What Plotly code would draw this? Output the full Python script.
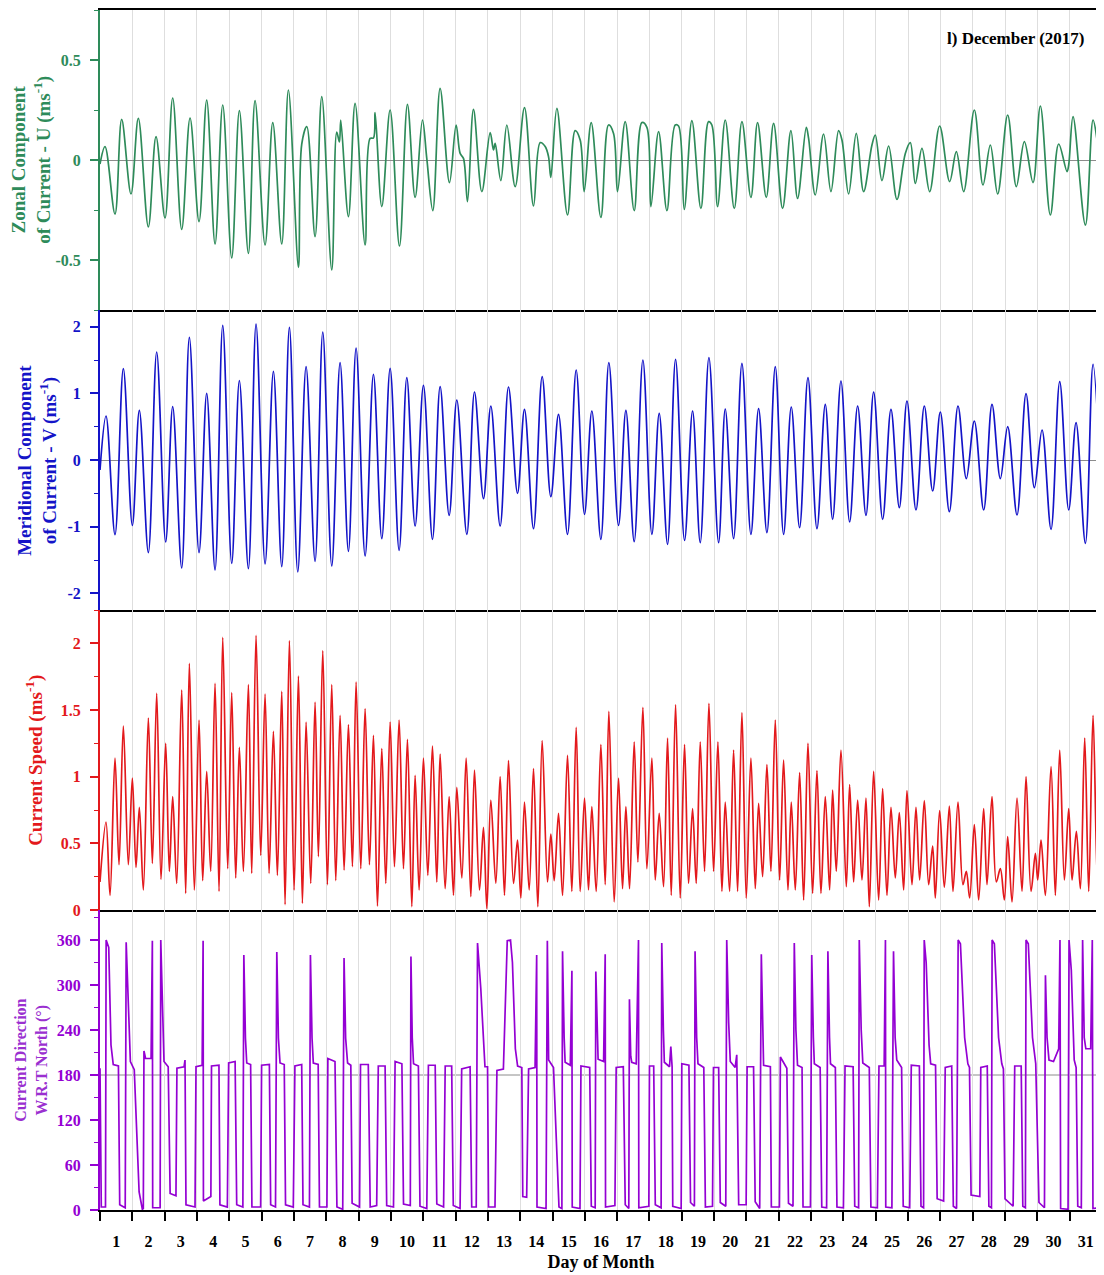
import plotly.graph_objects as go
from plotly.subplots import make_subplots

# ---------------- data (day of month offset, value) ----------------
u_points = [
    (0.00, -0.02), (0.155, 0.067), (0.464, -0.27), (0.67, 0.203), (0.959, -0.17), (1.186, 0.208),
    (1.496, -0.335), (1.733, 0.117), (2.012, -0.29), (2.249, 0.31), (2.528, -0.347), (2.786, 0.21),
    (3.064, -0.308), (3.301, 0.30), (3.56, -0.42), (3.797, 0.275), (4.075, -0.49), (4.312, 0.247),
    (4.591, -0.467), (4.797, 0.297), (5.107, -0.425), (5.345, 0.187), (5.623, -0.42), (5.829, 0.35),
    (6.139, -0.537), (6.242, 0.08), (6.397, 0.167), (6.654, -0.383), (6.861, 0.317), (7.17, -0.55),
    (7.325, 0.14), (7.407, 0.09), (7.449, 0.2), (7.686, -0.283), (7.892, 0.283), (8.202, -0.425),
    (8.357, 0.108), (8.46, 0.11), (8.511, 0.237), (8.718, -0.233), (8.976, 0.25), (9.265, -0.43),
    (9.512, 0.278), (9.749, -0.187), (9.976, 0.2), (10.11, 0.008), (10.296, -0.253), (10.523, 0.358),
    (10.812, -0.113), (11.018, 0.175), (11.142, 0.033), (11.245, 0.008), (11.369, -0.208),
    (11.555, 0.253), (11.813, -0.158), (12.071, 0.137), (12.174, 0.05), (12.226, 0.083),
    (12.401, -0.103), (12.587, 0.175), (12.845, -0.133), (13.133, 0.262), (13.412, -0.23),
    (13.618, 0.087), (13.773, 0.067), (13.876, 0.017), (13.948, -0.087), (14.134, 0.258),
    (14.464, -0.275), (14.701, 0.147), (14.856, 0.1), (14.98, -0.158), (15.197, 0.187),
    (15.496, -0.287), (15.733, 0.175), (15.888, 0.133), (16.011, -0.158), (16.249, 0.192),
    (16.527, -0.253), (16.765, 0.187), (16.92, 0.163), (17.043, -0.233), (17.281, 0.142),
    (17.539, -0.253), (17.796, 0.175), (17.9, 0.17), (18.075, -0.247), (18.312, 0.197),
    (18.591, -0.242), (18.828, 0.192), (18.93, 0.175), (19.107, -0.233), (19.344, 0.2),
    (19.623, -0.242), (19.86, 0.192), (20.138, -0.187), (20.344, 0.187), (20.613, -0.187),
    (20.84, 0.183), (21.118, -0.242), (21.376, 0.147), (21.582, -0.192), (21.851, 0.163),
    (21.923, 0.108), (22.129, -0.175), (22.387, 0.13), (22.614, -0.158), (22.851, 0.147),
    (22.955, 0.1), (23.161, -0.17), (23.398, 0.133), (23.625, -0.158), (23.883, 0.075),
    (23.986, 0.125), (24.192, -0.103), (24.399, 0.07), (24.657, -0.197), (24.915, 0.033),
    (25.069, 0.087), (25.224, -0.117), (25.43, 0.058), (25.668, -0.158), (25.977, 0.17),
    (26.287, -0.108), (26.493, 0.042), (26.72, -0.158), (27.05, 0.25), (27.318, -0.125),
    (27.545, 0.075), (27.772, -0.17), (28.082, 0.225), (28.35, -0.133), (28.598, 0.092),
    (28.866, -0.113), (29.093, 0.27), (29.402, -0.275), (29.66, 0.08), (29.918, -0.058),
    (29.97, -0.025), (30.104, 0.217), (30.486, -0.325), (30.723, 0.2), (30.847, 0.1), (31.0, -0.167),
]

v_points = [
    (0.0, -0.15), (0.186, 0.66), (0.464, -1.12), (0.722, 1.37), (1.001, -0.98), (1.217, 0.745),
    (1.496, -1.39), (1.754, 1.62), (2.032, -1.23), (2.249, 0.8), (2.528, -1.62), (2.765, 1.84),
    (3.064, -1.39), (3.301, 1.0), (3.559, -1.65), (3.797, 2.02), (4.075, -1.55), (4.312, 1.19),
    (4.591, -1.63), (4.828, 2.04), (5.107, -1.56), (5.365, 1.33), (5.623, -1.6), (5.86, 1.99),
    (6.118, -1.68), (6.376, 1.4), (6.654, -1.52), (6.892, 1.92), (7.17, -1.59), (7.428, 1.46),
    (7.686, -1.37), (7.923, 1.68), (8.202, -1.44), (8.46, 1.285), (8.718, -1.18), (8.976, 1.375),
    (9.254, -1.355), (9.492, 1.235), (9.749, -0.99), (10.007, 1.12), (10.286, -1.19), (10.523, 1.1),
    (10.802, -0.83), (11.039, 0.9), (11.349, -1.115), (11.586, 1.02), (11.864, -0.58), (12.091, 0.81),
    (12.38, -0.99), (12.638, 1.095), (12.917, -0.5), (13.133, 0.76), (13.412, -1.03), (13.68, 1.25),
    (13.948, -0.55), (14.186, 0.685), (14.464, -1.115), (14.732, 1.35), (14.99, -0.815),
    (15.217, 0.735), (15.496, -1.19), (15.743, 1.46), (16.042, -0.98), (16.27, 0.745),
    (16.527, -1.225), (16.796, 1.5), (17.074, -1.115), (17.301, 0.7), (17.559, -1.265),
    (17.807, 1.51), (18.085, -1.205), (18.333, 0.735), (18.57, -1.24), (18.839, 1.535),
    (19.138, -1.24), (19.344, 0.765), (19.602, -1.18), (19.86, 1.45), (20.138, -1.115),
    (20.376, 0.77), (20.633, -1.09), (20.892, 1.4), (21.149, -1.115), (21.387, 0.795),
    (21.644, -1.015), (21.903, 1.235), (22.181, -1.03), (22.439, 0.835), (22.666, -0.89),
    (22.924, 1.185), (23.192, -0.93), (23.44, 0.81), (23.698, -0.83), (23.935, 1.02),
    (24.213, -0.89), (24.471, 0.76), (24.729, -0.715), (24.966, 0.885), (25.245, -0.75),
    (25.503, 0.81), (25.761, -0.465), (25.998, 0.72), (26.277, -0.775), (26.545, 0.81),
    (26.803, -0.28), (27.05, 0.585), (27.339, -0.75), (27.597, 0.835), (27.855, -0.28),
    (28.082, 0.5), (28.371, -0.825), (28.65, 0.995), (28.908, -0.415), (29.145, 0.45),
    (29.423, -1.04), (29.692, 1.175), (29.97, -0.75), (30.197, 0.56), (30.486, -1.25),
    (30.723, 1.435), (31.0, -0.94),
]

speed_points = [
    (0.0, 0.21), (0.186, 0.66), (0.31, 0.11), (0.464, 1.14), (0.588, 0.34), (0.722, 1.38),
    (0.877, 0.34), (1.001, 0.99), (1.114, 0.32), (1.217, 0.77), (1.341, 0.15), (1.496, 1.44),
    (1.62, 0.35), (1.754, 1.625), (1.888, 0.23), (2.032, 1.25), (2.146, 0.29), (2.249, 0.85),
    (2.373, 0.2), (2.528, 1.65), (2.651, 0.125), (2.765, 1.85), (2.92, 0.15), (3.064, 1.425),
    (3.177, 0.22), (3.301, 1.04), (3.425, 0.29), (3.559, 1.7), (3.683, 0.14), (3.797, 2.045),
    (3.951, 0.31), (4.075, 1.63), (4.199, 0.24), (4.312, 1.22), (4.436, 0.29), (4.591, 1.69),
    (4.694, 0.275), (4.828, 2.06), (4.972, 0.41), (5.107, 1.62), (5.231, 0.275), (5.365, 1.34),
    (5.488, 0.26), (5.623, 1.64), (5.726, 0.04), (5.86, 2.02), (6.005, 0.15), (6.139, 1.755),
    (6.262, 0.05), (6.376, 1.41), (6.52, 0.2), (6.654, 1.56), (6.757, 0.4), (6.892, 1.945),
    (7.036, 0.19), (7.17, 1.69), (7.294, 0.22), (7.428, 1.46), (7.552, 0.3), (7.686, 1.39),
    (7.81, 0.325), (7.923, 1.71), (8.068, 0.31), (8.202, 1.51), (8.336, 0.34), (8.46, 1.31),
    (8.584, 0.03), (8.718, 1.21), (8.842, 0.2), (8.976, 1.41), (9.11, 0.325), (9.254, 1.425),
    (9.389, 0.31), (9.512, 1.28), (9.647, 0.025), (9.749, 1.01), (9.873, 0.15), (10.007, 1.14),
    (10.142, 0.26), (10.286, 1.23), (10.42, 0.21), (10.523, 1.17), (10.678, 0.16), (10.802, 0.85),
    (10.936, 0.11), (11.039, 0.92), (11.194, 0.24), (11.328, 1.14), (11.473, 0.1), (11.586, 1.05),
    (11.741, 0.15), (11.864, 0.62), (11.968, 0.01), (12.091, 0.825), (12.246, 0.2), (12.38, 1.0),
    (12.514, 0.11), (12.638, 1.12), (12.793, 0.2), (12.917, 0.525), (13.02, 0.09), (13.133, 0.81),
    (13.278, 0.15), (13.412, 1.06), (13.546, 0.025), (13.68, 1.27), (13.845, 0.21), (13.948, 0.57),
    (14.052, 0.22), (14.186, 0.725), (14.31, 0.11), (14.464, 1.16), (14.598, 0.14), (14.732, 1.37),
    (14.856, 0.14), (14.99, 0.84), (15.114, 0.15), (15.217, 0.775), (15.351, 0.14), (15.496, 1.24),
    (15.63, 0.19), (15.743, 1.49), (15.908, 0.06), (16.042, 0.99), (16.166, 0.16), (16.27, 0.775),
    (16.383, 0.16), (16.527, 1.26), (16.641, 0.36), (16.796, 1.52), (16.92, 0.31), (17.074, 1.14),
    (17.178, 0.225), (17.301, 0.725), (17.435, 0.175), (17.559, 1.29), (17.673, 0.11),
    (17.807, 1.54), (17.951, 0.09), (18.085, 1.24), (18.209, 0.2), (18.333, 0.76), (18.446, 0.2),
    (18.57, 1.26), (18.704, 0.29), (18.839, 1.55), (18.983, 0.29), (19.117, 1.26), (19.241, 0.14),
    (19.344, 0.81), (19.478, 0.14), (19.602, 1.2), (19.726, 0.14), (19.86, 1.48), (19.994, 0.09),
    (20.138, 1.14), (20.273, 0.16), (20.376, 0.8), (20.5, 0.25), (20.633, 1.09), (20.757, 0.29),
    (20.892, 1.425), (21.026, 0.225), (21.149, 1.125), (21.284, 0.15), (21.387, 0.81),
    (21.511, 0.15), (21.645, 1.03), (21.769, 0.075), (21.903, 1.25), (22.047, 0.125),
    (22.181, 1.045), (22.305, 0.125), (22.439, 0.85), (22.573, 0.15), (22.666, 0.9), (22.779, 0.29),
    (22.924, 1.2), (23.089, 0.175), (23.192, 0.94), (23.316, 0.21), (23.44, 0.825), (23.574, 0.225),
    (23.698, 0.84), (23.801, 0.025), (23.935, 1.04), (24.09, 0.075), (24.213, 0.91), (24.347, 0.11),
    (24.471, 0.77), (24.605, 0.24), (24.729, 0.73), (24.863, 0.15), (24.966, 0.895), (25.121, 0.19),
    (25.245, 0.77), (25.358, 0.225), (25.503, 0.82), (25.637, 0.19), (25.761, 0.48), (25.843, 0.09),
    (25.977, 0.745), (26.122, 0.17), (26.277, 0.78), (26.39, 0.14), (26.545, 0.81), (26.699, 0.19),
    (26.803, 0.29), (26.906, 0.09), (27.05, 0.64), (27.184, 0.075), (27.339, 0.76), (27.442, 0.19),
    (27.597, 0.85), (27.731, 0.21), (27.855, 0.31), (27.979, 0.075), (28.082, 0.55), (28.216, 0.06),
    (28.371, 0.84), (28.526, 0.14), (28.65, 1.0), (28.805, 0.14), (28.939, 0.425), (29.011, 0.225),
    (29.114, 0.525), (29.248, 0.11), (29.423, 1.075), (29.557, 0.11), (29.692, 1.2), (29.836, 0.225),
    (29.97, 0.76), (30.073, 0.225), (30.207, 0.59), (30.331, 0.16), (30.465, 1.29), (30.589, 0.14),
    (30.723, 1.46), (30.868, 0.16), (31.0, 0.95),
]

dir_points = [
    (0.00, 189), (0.04, 4), (0.17, 4), (0.19, 360), (0.27, 350), (0.34, 220), (0.41, 194), (0.57, 192),
    (0.61, 7), (0.78, 3), (0.81, 357), (0.88, 273), (0.94, 198), (1.06, 187), (1.14, 96), (1.21, 24),
    (1.31, 1), (1.34, 2), (1.36, 212), (1.41, 202), (1.58, 202), (1.62, 359), (1.63, 3), (1.86, 3),
    (1.88, 360), (1.93, 273), (1.98, 198), (2.11, 191), (2.17, 22), (2.35, 19), (2.38, 189),
    (2.60, 191), (2.63, 200), (2.66, 7), (2.94, 4), (2.97, 191), (3.16, 193), (3.19, 359), (3.20, 12),
    (3.43, 18), (3.45, 192), (3.68, 193), (3.71, 7), (3.94, 4), (3.98, 196), (4.18, 198), (4.23, 7),
    (4.42, 4), (4.45, 340), (4.50, 229), (4.54, 196), (4.66, 194), (4.70, 4), (4.97, 4), (5.00, 193),
    (5.24, 194), (5.28, 7), (5.43, 4), (5.47, 344), (5.52, 229), (5.57, 196), (5.70, 194), (5.74, 7),
    (5.98, 4), (6.03, 192), (6.24, 194), (6.28, 7), (6.48, 4), (6.51, 340), (6.56, 229), (6.60, 196),
    (6.75, 194), (6.79, 4), (7.02, 4), (7.05, 202), (7.27, 198), (7.33, 4), (7.51, 1), (7.55, 336),
    (7.60, 229), (7.66, 196), (7.76, 193), (7.80, 9), (8.03, 4), (8.06, 194), (8.30, 194), (8.36, 4),
    (8.56, 6), (8.61, 192), (8.82, 192), (8.87, 6), (9.08, 4), (9.13, 198), (9.34, 195), (9.39, 8),
    (9.60, 6), (9.62, 338), (9.66, 230), (9.70, 195), (9.85, 192), (9.90, 5), (10.11, 2),
    (10.16, 193), (10.37, 193), (10.42, 8), (10.63, 4), (10.68, 192), (10.88, 192), (10.93, 6),
    (11.14, 2), (11.19, 188), (11.45, 191), (11.50, 4), (11.64, 4), (11.68, 356), (11.78, 296),
    (11.88, 207), (11.91, 191), (11.99, 191), (12.02, 4), (12.22, 4), (12.28, 186), (12.48, 188),
    (12.55, 300), (12.60, 359), (12.70, 360), (12.76, 330), (12.85, 215), (12.92, 192), (13.05, 190),
    (13.08, 18), (13.20, 17), (13.26, 188), (13.46, 190), (13.51, 340), (13.52, 4), (13.80, 2),
    (13.84, 359), (13.88, 200), (14.03, 190), (14.10, 120), (14.20, 4), (14.29, 2), (14.31, 345),
    (14.36, 230), (14.39, 197), (14.55, 193), (14.60, 319), (14.61, 4), (14.85, 2), (14.88, 192),
    (15.15, 190), (15.20, 5), (15.32, 3), (15.34, 318), (15.38, 220), (15.41, 201), (15.58, 198),
    (15.63, 341), (15.64, 4), (15.93, 6), (15.97, 190), (16.19, 191), (16.25, 7), (16.36, 2),
    (16.38, 281), (16.42, 205), (16.45, 197), (16.59, 195), (16.66, 360), (16.67, 3), (16.98, 5),
    (17.00, 192), (17.13, 192), (17.18, 7), (17.36, 3), (17.38, 356), (17.43, 240), (17.46, 197),
    (17.62, 191), (17.66, 218), (17.70, 191), (17.72, 5), (17.98, 2), (18.00, 195), (18.22, 193),
    (18.27, 10), (18.39, 5), (18.41, 345), (18.46, 230), (18.50, 195), (18.68, 190), (18.73, 4),
    (18.95, 5), (18.98, 190), (19.14, 190), (19.19, 10), (19.36, 5), (19.39, 360), (19.45, 250),
    (19.50, 198), (19.65, 190), (19.70, 207), (19.76, 7), (19.99, 7), (20.02, 191), (20.22, 191),
    (20.27, 11), (20.41, 2), (20.46, 341), (20.50, 220), (20.53, 193), (20.74, 191), (20.77, 4),
    (21.02, 4), (21.05, 204), (21.25, 189), (21.30, 9), (21.44, 5), (21.48, 356), (21.53, 240),
    (21.58, 193), (21.72, 190), (21.75, 4), (21.98, 4), (22.02, 340), (22.07, 230), (22.10, 195),
    (22.28, 190), (22.33, 4), (22.48, 3), (22.52, 345), (22.57, 230), (22.60, 195), (22.75, 190),
    (22.80, 4), (23.00, 3), (23.05, 192), (23.30, 191), (23.35, 5), (23.47, 3), (23.49, 360),
    (23.55, 240), (23.60, 196), (23.80, 190), (23.85, 4), (24.05, 3), (24.10, 192), (24.26, 192),
    (24.30, 360), (24.31, 4), (24.50, 3), (24.55, 345), (24.60, 230), (24.65, 200), (24.80, 190),
    (24.85, 5), (25.05, 3), (25.10, 193), (25.35, 192), (25.40, 5), (25.48, 3), (25.50, 360),
    (25.56, 330), (25.65, 220), (25.70, 195), (25.85, 193), (25.90, 15), (26.10, 12), (26.15, 190),
    (26.35, 192), (26.40, 5), (26.50, 2), (26.55, 360), (26.62, 355), (26.75, 230), (26.85, 195),
    (26.90, 190), (26.95, 20), (27.22, 18), (27.25, 190), (27.45, 192), (27.50, 5), (27.58, 3),
    (27.60, 360), (27.67, 355), (27.80, 230), (27.90, 195), (27.95, 188), (28.00, 15), (28.25, 5),
    (28.30, 192), (28.50, 192), (28.55, 5), (28.63, 3), (28.65, 360), (28.72, 355), (28.85, 230),
    (28.95, 195), (29.05, 10), (29.22, 3), (29.25, 313), (29.30, 230), (29.36, 200), (29.50, 198),
    (29.66, 215), (29.70, 360), (29.72, 2), (29.95, 1), (29.98, 360), (30.05, 320), (30.14, 200),
    (30.20, 190), (30.25, 5), (30.36, 3), (30.40, 360), (30.45, 230), (30.50, 215), (30.65, 215),
    (30.70, 360), (30.72, 2), (30.92, 3), (30.96, 190), (31.0, 190),
]

day_labels = [str(d) for d in range(1, 32)]
u_ticks, u_ticktext = [-0.5, 0, 0.5], ["-0.5", "0", "0.5"]
v_ticks, v_ticktext = [-2, -1, 0, 1, 2], ["-2", "-1", "0", "1", "2"]
s_ticks, s_ticktext = [0, 0.5, 1, 1.5, 2], ["0", "0.5", "1", "1.5", "2"]
d_ticks, d_ticktext = [0, 60, 120, 180, 240, 300, 360], ["0", "60", "120", "180", "240", "300", "360"]
title_text = "l) December (2017)"

# ---------------- styling ----------------
FONT = "Liberation Serif, Times New Roman, serif"
GREEN = "#2E8B5A"
BLUE = "#1414C8"
RED = "#E3191C"
PURPLE = "#9400D3"
PURPLE_TXT = "#9A30D0"
GRID = "#dedede"

fig = make_subplots(rows=4, cols=1, shared_xaxes=True, vertical_spacing=0)

series = [
    (u_points, GREEN, "spline"),
    (v_points, BLUE, "spline"),
    (speed_points, RED, "spline"),
    (dir_points, PURPLE, "linear"),
]
for i, (pts, col, shape) in enumerate(series, start=1):
    xs = [p[0] for p in pts]
    ys = [p[1] for p in pts]
    line = dict(color=col, width=1.7, shape=shape)
    if shape == "spline":
        line["smoothing"] = 1.0
    fig.add_trace(go.Scatter(x=xs, y=ys, mode="lines", line=line, showlegend=False,
                             hoverinfo="skip"), row=i, col=1)

domains = [[0.75, 1.0], [0.5, 0.75], [0.25, 0.5], [0.0, 0.25]]
yranges = [[-0.75, 0.75], [-2.25, 2.25], [0, 2.25], [0, 400]]
ytickvals = [u_ticks, v_ticks, s_ticks, d_ticks]
yticktext = [u_ticktext, v_ticktext, s_ticktext, d_ticktext]
yminor = [0.25, 0.5, 0.25, 30]
ycols = [GREEN, BLUE, RED, PURPLE]
zeroline = [True, True, False, False]

for i in range(4):
    ax = "yaxis" if i == 0 else f"yaxis{i+1}"
    fig.layout[ax].update(
        domain=domains[i], range=yranges[i], tickmode="array", tickvals=ytickvals[i],
        ticktext=yticktext[i],
        ticks="outside", ticklen=8, tickwidth=1.5, tickcolor=ycols[i],
        showline=True, linecolor=ycols[i], linewidth=2, mirror=False,
        showgrid=False, zeroline=zeroline[i], zerolinecolor="#8c8c8c", zerolinewidth=1,
        tickfont=dict(family=FONT, size=16, color=ycols[i], weight="bold"),
        ticklabelstandoff=6,
        minor=dict(dtick=yminor[i], tick0=0, ticks="outside", ticklen=4, tickwidth=1,
                   tickcolor=ycols[i], showgrid=False),
        fixedrange=True,
    )

for i in range(4):
    ax = "xaxis" if i == 0 else f"xaxis{i+1}"
    common = dict(range=[0, 31], showline=True, linecolor="black", linewidth=2,
                  mirror=(i == 0), zeroline=False)
    if i < 3:
        fig.layout[ax].update(**common, tickmode="linear", tick0=0, dtick=1, ticks="",
                              showticklabels=False, showgrid=True, gridcolor=GRID, gridwidth=1)
    else:
        fig.layout[ax].update(
            **common, tickmode="array", tickvals=[d - 0.5 for d in range(1, 32)],
            ticktext=day_labels, ticks="", showgrid=False, ticklabelstandoff=16,
            tickfont=dict(family=FONT, size=16, color="black", weight="bold"),
            minor=dict(tickmode="linear", tick0=0, dtick=1, ticks="outside", ticklen=9,
                       tickwidth=2, tickcolor="black", showgrid=True, gridcolor=GRID, gridwidth=1),
            title=dict(text="<b>Day of Month</b>", standoff=6,
                       font=dict(family=FONT, size=18, color="black")),
        )

# reference line at 180 deg in the direction panel
fig.add_shape(type="line", xref="x4 domain", yref="y4", x0=0, x1=1, y0=180, y1=180,
              line=dict(color="#8c8c8c", width=1), layer="below")
# right frame
fig.add_shape(type="line", xref="paper", yref="paper", x0=1, x1=1, y0=0, y1=1,
              line=dict(color="black", width=2))

ytitles = [
    ("<b>Zonal Component<br>of Current - U (ms<sup>-1</sup>)</b>", GREEN, 19, -0.069),
    ("<b>Meridional Component<br>of Current - V (ms<sup>-1</sup>)</b>", BLUE, 19, -0.063),
    ("<b>Current Speed (ms<sup>-1</sup>)</b>", RED, 19, -0.066),
    ("<b>Current Direction<br>W.R.T North (°)</b>", PURPLE_TXT, 16, -0.069),
]
for (txt, col, sz, xp), dom in zip(ytitles, domains):
    fig.add_annotation(text=txt, xref="paper", yref="paper", x=xp, y=(dom[0] + dom[1]) / 2,
                       xanchor="center", yanchor="middle", textangle=-90, showarrow=False,
                       font=dict(family=FONT, size=sz, color=col), align="center")

fig.add_annotation(text=f"<b>{title_text}</b>", xref="paper", yref="paper", x=0.985, y=0.976,
                   xanchor="right", yanchor="middle", showarrow=False,
                   font=dict(family=FONT, size=17, color="black"))

fig.update_layout(
    width=1096, height=1267,
    margin=dict(l=92, r=2, t=0, b=65),
    paper_bgcolor="white", plot_bgcolor="white",
    showlegend=False,
)

fig.write_html("out.html")
